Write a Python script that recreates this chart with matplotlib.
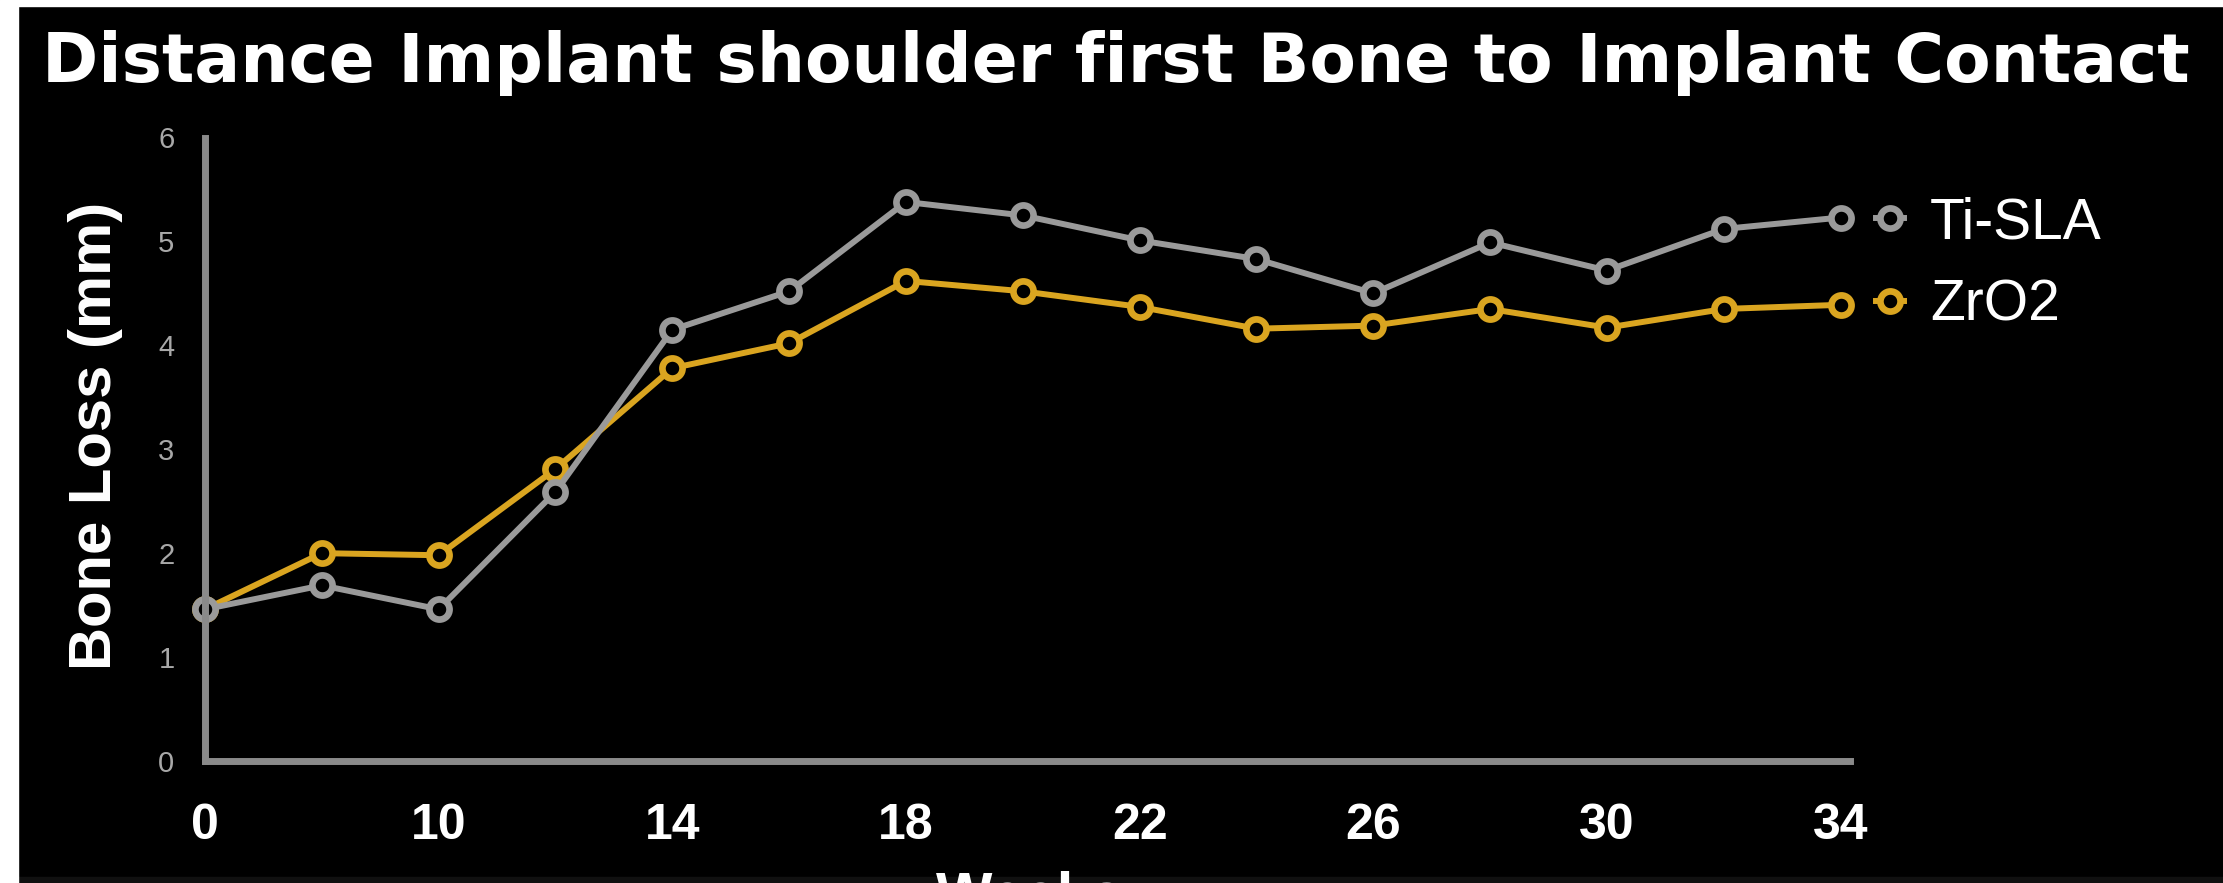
import matplotlib
matplotlib.use('Agg')
import matplotlib.pyplot as plt
from matplotlib.patches import Rectangle

# data
week_labels = ['0', '5', '10', '12', '14', '16', '18', '20', '22', '24', '26', '28', '30', '32', '34']
ti_sla = [1.46, 1.69, 1.46, 2.59, 4.15, 4.52, 5.38, 5.25, 5.01, 4.83, 4.50, 4.99, 4.72, 5.12, 5.23]
zro2 = [1.46, 2.00, 1.98, 2.81, 3.78, 4.02, 4.62, 4.52, 4.37, 4.16, 4.19, 4.35, 4.17, 4.35, 4.39]
y_ticks = [0, 1, 2, 3, 4, 5, 6]

title = 'Distance Implant shoulder first Bone to Implant Contact'
gray = '#9a9a9a'
gold = '#daa520'
spine_col = '#8a8a8a'
W, H = 2223, 883

fig = plt.figure(figsize=(W / 100, H / 100), dpi=100, facecolor='black')
ax = fig.add_axes([205 / W, 1 - 761 / H, (1850 - 205) / W, (761 - 137.5) / H])
ax.set_facecolor('black')

x = list(range(len(week_labels)))
line_kw = dict(lw=4.3, marker='o', ms=14.5, mew=4.8, mfc='black', clip_on=False)
h_zr, = ax.plot(x, zro2, color=gold, label='ZrO2', zorder=3, **line_kw)
h_ti, = ax.plot(x, ti_sla, color=gray, label='Ti-SLA', zorder=4, **line_kw)

ax.set_xlim(0, 14.08)
ax.set_ylim(0, 6)
for s in ['top', 'right']:
    ax.spines[s].set_visible(False)
for s in ['left', 'bottom']:
    ax.spines[s].set_color(spine_col)
    ax.spines[s].set_linewidth(5)
    ax.spines[s].set_zorder(5)
    ax.spines[s].set_capstyle('projecting')

ax.set_yticks(y_ticks)
ax.set_yticklabels([str(v) for v in y_ticks], family='Liberation Sans', fontsize=21, color='#a8a8a8')
ax.set_xticks(x[::2])
ax.set_xticklabels(week_labels[::2], family='Liberation Sans', fontsize=36,
                   fontweight='bold', color='white')
ax.tick_params(axis='y', length=0, pad=22)
ax.tick_params(axis='x', length=0, pad=30)

# legend to the right of the plot
fig.legend([h_ti, h_zr], ['Ti-SLA', 'ZrO2'], loc='center left',
           bbox_to_anchor=(1876 / W, 1 - 264.5 / H), frameon=False,
           prop={'family': 'Liberation Sans', 'size': 41}, labelcolor='white',
           handlelength=0.5, handletextpad=0.45, labelspacing=0.5,
           borderpad=0, borderaxespad=0)

# axis labels
fig.text(96 / W, 1 - 436 / H, 'Bone Loss (mm)', rotation=90, ha='center', va='center',
         family='Liberation Sans', fontsize=43, fontweight='bold', color='white')
fig.text(1030 / W, 1 - 871 / H, 'Weeks', ha='center', va='top',
         family='Liberation Sans', fontsize=43, fontweight='bold', color='white')

# title, sized to the width it takes in the picture
t = fig.text(42 / W, 1 - 82 / H, title, ha='left', va='baseline',
             family='DejaVu Sans', fontsize=40, fontweight='bold', color='white')
fig.canvas.draw()
wpx = t.get_window_extent().width
t.set_fontsize(40 * 2148 / wpx)

# frame edges of the screenshot
fig.patches.append(Rectangle((0, 0), 1, 6 / H, transform=fig.transFigure, color='#101010', zorder=0))
fig.patches.append(Rectangle((0, 0), 18 / W, 1, transform=fig.transFigure, color='white', zorder=0))
fig.patches.append(Rectangle((0, 1 - 6 / H), 1, 6 / H, transform=fig.transFigure, color='white', zorder=0))

fig.savefig('out.png', dpi=100, facecolor='black')
